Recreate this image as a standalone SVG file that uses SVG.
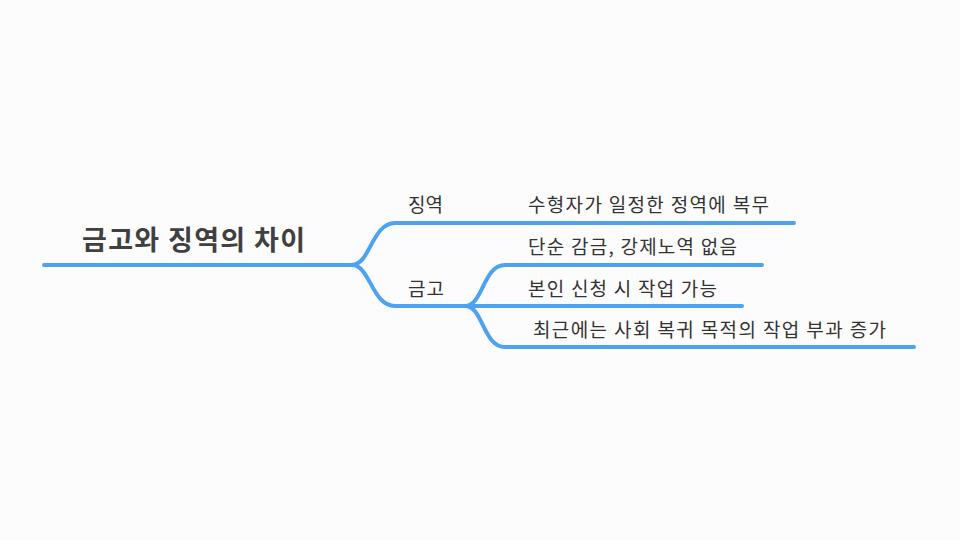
<svg xmlns="http://www.w3.org/2000/svg" width="960" height="540" viewBox="0 0 960 540">
<style>
.ln{fill:none;stroke:#4ea2f2;stroke-width:4;stroke-linecap:round;stroke-linejoin:round}
.t{font-family:"Noto Sans CJK KR","Noto Sans",sans-serif;fill:#333333}
.root{font-size:27px;font-weight:bold;fill:#404040}
.lab{font-size:19px}
.leaf{font-size:19px}
</style>
<rect width="960" height="540" fill="#fcfcfc"/>
<g id="connectors">
<path class="ln" d="M44,265 H352"/>
<path class="ln" d="M352,265 C370,265 372,223 395,223 H794"/>
<path class="ln" d="M352,265 C370,265 372,306 395,306 H465"/>
<path class="ln" d="M465,306 C483,306 483,265 505,265 H762"/>
<path class="ln" d="M465,306 H742"/>
<path class="ln" d="M465,306 C483,306 483,347 505,347 H914"/>
</g>
<g id="root"><text class="t root" x="82" y="250" textLength="223" lengthAdjust="spacing">금고와 징역의 차이</text></g>
<g id="n-jingyeok"><text class="t lab" x="408" y="212" textLength="35" lengthAdjust="spacing">징역</text></g>
<g id="n-geumgo"><text class="t lab" x="408" y="296" textLength="36" lengthAdjust="spacing">금고</text></g>
<g id="l1"><text class="t leaf" x="528" y="212" textLength="241" lengthAdjust="spacing">수형자가 일정한 정역에 복무</text></g>
<g id="l2"><text class="t leaf" x="528" y="254" textLength="209" lengthAdjust="spacing">단순 감금, 강제노역 없음</text></g>
<g id="l3"><text class="t leaf" x="528" y="296" textLength="189" lengthAdjust="spacing">본인 신청 시 작업 가능</text></g>
<g id="l4"><text class="t leaf" x="533" y="337" textLength="353" lengthAdjust="spacing">최근에는 사회 복귀 목적의 작업 부과 증가</text></g>
</svg>
